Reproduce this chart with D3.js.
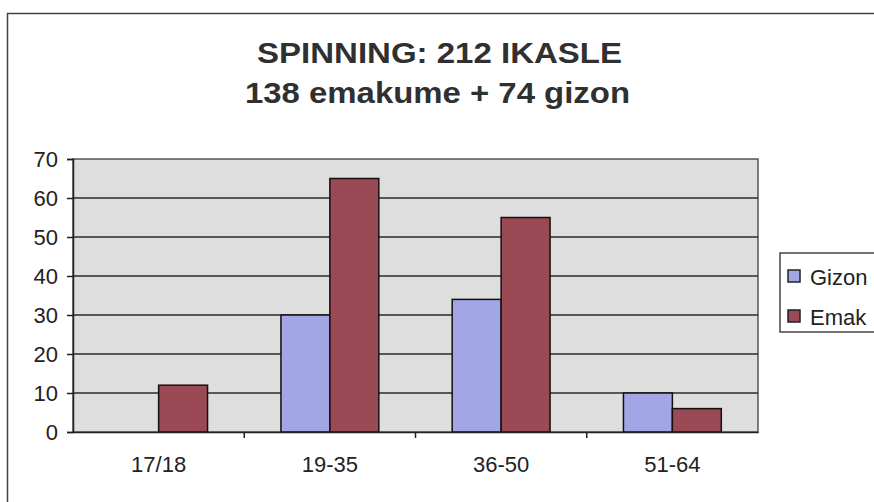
<!DOCTYPE html>
<html>
<head>
<meta charset="utf-8">
<script src="https://cdn.jsdelivr.net/npm/d3@7"></script>
<style>
  body { margin: 0; background: #fff; }
  svg { display: block; font-family: "Liberation Sans", Arial, sans-serif; }
</style>
</head>
<body>
<div id="chart"></div>
<script>
(function () {
  var categories = ['17/18', '19-35', '36-50', '51-64'];
  var series = ['Gizon', 'Emak'];
  var gizonValues = [0, 30, 34, 10];
  var emakValues = [12, 65, 55, 6];
  var yTicks = [0, 10, 20, 30, 40, 50, 60, 70];
  var titleLines = ['SPINNING: 212 IKASLE', '138 emakume + 74 gizon'];

  var width = 874, height = 502;
  var plot = {left: 73, right: 758, top: 159, bottom: 432};

  var colors = {'Gizon': '#a2a6e4', 'Emak': '#9a4955'};

  var rows = categories.map(function (c, i) {
    return {cat: c, Gizon: gizonValues[i], Emak: emakValues[i]};
  });

  var svg = d3.select('#chart').append('svg')
    .attr('width', width)
    .attr('height', height);

  // chart frame (scan shows only left + top)
  svg.append('line').attr('x1', 7.5).attr('x2', 7.5).attr('y1', 13).attr('y2', height)
    .attr('stroke', '#444').attr('stroke-width', 1.5);
  svg.append('line').attr('x1', 7).attr('x2', width).attr('y1', 13.5).attr('y2', 13.5)
    .attr('stroke', '#444').attr('stroke-width', 1.5);

  // titles
  svg.selectAll('text.title')
    .data(titleLines)
    .enter().append('text')
    .attr('class', 'title')
    .attr('x', function (d, i) { return i == 0 ? 257 : 245; })
    .attr('y', function (d, i) { return i == 0 ? 63 : 103; })
    .attr('textLength', function (d, i) { return i == 0 ? 365 : 385; })
    .attr('lengthAdjust', 'spacingAndGlyphs')
    .attr('font-size', 29)
    .attr('font-weight', 'bold')
    .attr('fill', '#303030')
    .text(function (d) { return d; });

  var x0 = d3.scaleBand()
    .domain(categories)
    .range([plot.left, plot.right])
    .padding(0);

  var x1 = d3.scaleBand()
    .domain(series)
    .range([0, x0.bandwidth()])
    .paddingInner(0)
    .paddingOuter(0.75);

  var y = d3.scaleLinear()
    .domain([0, 70])
    .range([plot.bottom, plot.top]);

  // plot background
  svg.append('rect')
    .attr('x', plot.left).attr('y', plot.top)
    .attr('width', plot.right - plot.left)
    .attr('height', plot.bottom - plot.top)
    .attr('fill', '#dedede')
    .attr('stroke', '#555').attr('stroke-width', 1.5);

  // gridlines
  svg.append('g')
    .selectAll('line')
    .data(yTicks.filter(function (t) { return t > 0 && t < 70; }))
    .enter().append('line')
    .attr('x1', plot.left).attr('x2', plot.right)
    .attr('y1', function (d) { return y(d); })
    .attr('y2', function (d) { return y(d); })
    .attr('stroke', '#2a2a2a').attr('stroke-width', 1.5);

  // bars
  var groups = svg.append('g').selectAll('g')
    .data(rows)
    .enter().append('g')
    .attr('transform', function (d) { return 'translate(' + x0(d.cat) + ',0)'; });

  groups.selectAll('rect')
    .data(function (d) {
      return series.map(function (s) { return {key: s, value: d[s]}; })
        .filter(function (o) { return o.value > 0; });
    })
    .enter().append('rect')
    .attr('x', function (d) { return x1(d.key); })
    .attr('y', function (d) { return y(d.value); })
    .attr('width', x1.bandwidth())
    .attr('height', function (d) { return y(0) - y(d.value); })
    .attr('fill', function (d) { return colors[d.key]; })
    .attr('stroke', '#111').attr('stroke-width', 1.5);

  // y axis
  var yAxis = svg.append('g')
    .attr('transform', 'translate(' + plot.left + ',0)')
    .call(d3.axisLeft(y).tickValues(yTicks).tickSize(6).tickPadding(9));
  yAxis.select('.domain').attr('stroke', '#222').attr('stroke-width', 1.5);
  yAxis.selectAll('line').attr('stroke', '#222').attr('stroke-width', 1.5);
  yAxis.selectAll('text')
    .attr('font-size', 22)
    .attr('font-family', '"Liberation Sans", Arial, sans-serif')
    .attr('fill', '#222');

  // x axis
  var xAxis = svg.append('g')
    .attr('transform', 'translate(0,' + plot.bottom + ')')
    .call(d3.axisBottom(x0).tickSize(0).tickPadding(24));
  xAxis.select('.domain').attr('stroke', '#222').attr('stroke-width', 1.5);
  xAxis.selectAll('text')
    .attr('font-size', 22)
    .attr('font-family', '"Liberation Sans", Arial, sans-serif')
    .attr('fill', '#222');

  // category boundary ticks
  svg.append('g').selectAll('line')
    .data(categories.slice(1))
    .enter().append('line')
    .attr('x1', function (d) { return x0(d); })
    .attr('x2', function (d) { return x0(d); })
    .attr('y1', plot.bottom).attr('y2', plot.bottom + 6)
    .attr('stroke', '#222').attr('stroke-width', 1.5);

  // legend (cut off by the right edge like the scan)
  var legend = svg.append('g').attr('transform', 'translate(780,253)');
  legend.append('rect')
    .attr('x', 0).attr('y', 0).attr('width', 130).attr('height', 79)
    .attr('fill', '#fff').attr('stroke', '#444').attr('stroke-width', 1.5);

  var items = legend.selectAll('g.item')
    .data(series)
    .enter().append('g')
    .attr('class', 'item')
    .attr('transform', function (d, i) { return 'translate(8,' + (19 + i * 40) + ')'; });

  items.append('rect')
    .attr('x', 0).attr('y', -2)
    .attr('width', 12).attr('height', 12)
    .attr('fill', function (d) { return colors[d]; })
    .attr('stroke', '#222').attr('stroke-width', 1.5);

  items.append('text')
    .attr('x', 22).attr('y', 13)
    .attr('font-size', 22)
    .attr('fill', '#222')
    .text(function (d) { return d; });
})();
</script>
</body>
</html>
